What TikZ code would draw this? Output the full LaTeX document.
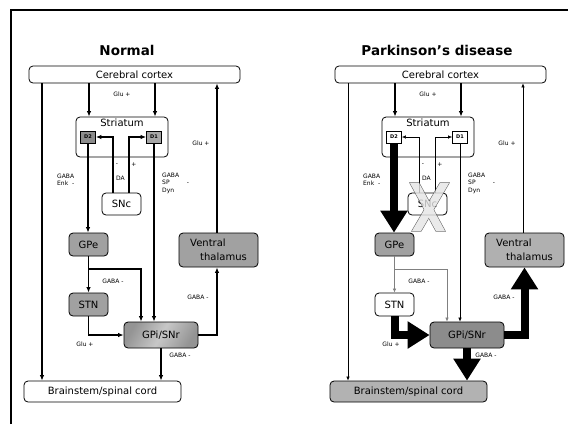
\documentclass[tikz,border=0pt]{standalone}
\usepackage{fontspec}
\setmainfont{DejaVu Sans}
\usetikzlibrary{arrows.meta}
\tikzset{
  box/.style={draw=black, line width=0.8pt, rounded corners=4pt, inner sep=0pt, font=\fontsize{10}{14}\selectfont},
  gbox/.style={box, fill=black!37},
  dbox/.style={draw=black, line width=0.7pt, inner sep=0pt, font=\bfseries\fontsize{5}{5}\selectfont, minimum width=15pt, minimum height=12pt},
  conn/.style={line width=1.5pt, -{Latex[length=5.5pt,width=4.5pt]}},
  thinc/.style={line width=0.6pt, -{Latex[length=4pt,width=3.5pt]}},
  thing/.style={thinc, draw=black!50},
  big/.style={line width=8pt, -{Triangle[length=22pt,width=26pt]}},
  lab/.style={inner sep=0pt, font=\fontsize{6}{7.5}\selectfont},
  ttl/.style={inner sep=0pt, font=\bfseries\fontsize{13.5}{15}\selectfont},
  frame/.style={line width=2.5pt},
  xbar/.style={fill=black!10, draw=black!75, line width=1.1pt}
}
\newcommand\panellabels[1]{%
  \node[lab] (glua#1) at (122,94) {Glu +};
  \node[lab] (glub#1) at (201,143) {Glu +};
  \node[lab] (minus#1) at (117,165) {-};
  \node[lab] (plus#1) at (134,165) {+};
  \node[lab] (da#1) at (120.5,178) {DA};
  \node[lab, align=left, anchor=west] (enk#1) at (57,180) {GABA\\Enk\ \ -};
  \node[lab, align=left, anchor=west] (sp#1) at (162,183) {GABA\\SP\\Dyn};
  \node[lab] (spm#1) at (188,184) {-};
  \node[lab] (gabag#1) at (113,281) {GABA -};
  \node[lab] (gabav#1) at (198,297) {GABA -};
  \node[lab] (gluc#1) at (85,344) {Glu +};
  \node[lab] (gabab#1) at (180,355) {GABA -};
}
\begin{document}
\begin{tikzpicture}[x=1pt,y=-1pt]
\useasboundingbox (0,0) rectangle (568,424);
\fill[white] (0,0) rectangle (568,424);
\coordinate (fa) at (11,424);
\coordinate (fb) at (11,10);
\coordinate (fc) at (568,10);
\draw[frame] (fa) -- (fb) -- (fc);

% titles
\node[ttl] (titleL) at (127,50) {Normal};
\node[ttl] (titleR) at (437,50) {Parkinson’s disease};

% ---------------- left panel ----------------
\panellabels{L}
\node[box, minimum width=211pt, minimum height=17pt] (cortexL) at (134.5,74.5) {Cerebral cortex};
\node[box, minimum width=92pt, minimum height=40pt] (striL) at (122,137) {};
\node[inner sep=0pt, font=\fontsize{10}{12}\selectfont] (stritL) at (122,123) {Striatum};
\node[dbox, fill=black!45] (D2L) at (88,137) {D2};
\node[dbox, fill=black!35] (D1L) at (154,137) {D1};
\node[box, fill=white, minimum width=39pt, minimum height=22pt] (SNcL) at (121.5,204) {SNc};
\node[gbox, minimum width=39pt, minimum height=23pt] (GPeL) at (88.5,244.5) {GPe};
\node[gbox, minimum width=39pt, minimum height=23pt] (STNL) at (88.5,304.5) {STN};
\node[box, minimum width=74pt, minimum height=26pt, top color=black!42, bottom color=black!42, middle color=black!22, shading angle=60] (GPiL) at (161,335) {GPi/SNr};
\node[gbox, minimum width=79pt, minimum height=34pt, align=left] (VTL) at (218.5,250) {Ventral\\\hspace*{10pt}thalamus};
\node[box, fill=white, minimum width=157pt, minimum height=21pt] (BSL) at (102.5,391.5) {Brainstem/spinal cord};

\coordinate (xaL) at (42,0);
\coordinate (xbL) at (89,0);
\coordinate (xcL) at (155,0);
\coordinate (xdL) at (217,0);
\coordinate (xeL) at (113,0);
\coordinate (xfL) at (129,0);
\coordinate (xgL) at (141,0);
\coordinate (jL) at (88.5,269);

\draw[conn] (cortexL.south -| xaL) -- (BSL.north -| xaL);
\draw[conn] (cortexL.south -| xbL) -- (striL.north -| xbL);
\draw[conn] (cortexL.south -| xcL) -- (striL.north -| xcL);
\draw[conn] (VTL.north -| xdL) -- (cortexL.south -| xdL);
\draw[conn] (SNcL.north -| xeL) |- (D2L.east);
\draw[conn] (SNcL.north -| xfL) |- (D1L.west);
\draw[conn] (D2L.south) -- (GPeL.north -| D2L.south);
\draw[conn] (D1L.south) -- (GPiL.north -| D1L.south);
\draw[conn] (GPeL.south) -- (STNL.north);
\draw[conn] (jL) -| (GPiL.north -| xgL);
\draw[conn] (STNL.south) |- (GPiL.west);
\draw[conn] (GPiL.east) -| (VTL.south -| xdL);
\draw[conn] (GPiL.south) -- (BSL.north -| GPiL.south);

% ---------------- right panel ----------------
\begin{scope}[xshift=306pt]
\panellabels{R}
\end{scope}
\node[box, minimum width=211pt, minimum height=17pt] (cortexR) at (440.5,74.5) {Cerebral cortex};
\node[box, minimum width=92pt, minimum height=40pt] (striR) at (428,137) {};
\node[inner sep=0pt, font=\fontsize{10}{12}\selectfont] (stritR) at (428,123) {Striatum};
\node[dbox, fill=white] (D2R) at (394,137) {D2};
\node[dbox, fill=white] (D1R) at (460,137) {D1};
\node[box, fill=white, minimum width=39pt, minimum height=22pt] (SNcR) at (427.5,204) {SNc};
\node[gbox, minimum width=39pt, minimum height=23pt] (GPeR) at (394.5,244.5) {GPe};
\node[box, fill=white, minimum width=39pt, minimum height=23pt] (STNR) at (394.5,304.5) {STN};
\node[box, fill=black!45, minimum width=74pt, minimum height=26pt] (GPiR) at (467,335) {GPi/SNr};
\node[box, fill=black!31, minimum width=79pt, minimum height=34pt, align=left] (VTR) at (524.5,250) {Ventral\\\hspace*{10pt}thalamus};
\node[box, fill=black!30, minimum width=157pt, minimum height=21pt] (BSR) at (408.5,391.5) {Brainstem/spinal cord};

\coordinate (xaR) at (348,0);
\coordinate (xbR) at (395,0);
\coordinate (xcR) at (461,0);
\coordinate (xdR) at (523,0);
\coordinate (xeR) at (419,0);
\coordinate (xfR) at (435,0);
\coordinate (xgR) at (447,0);
\coordinate (jR) at (394.5,269);

\draw[thinc] (cortexR.south -| xaR) -- (BSR.north -| xaR);
\draw[conn] (cortexR.south -| xbR) -- (striR.north -| xbR);
\draw[conn] (cortexR.south -| xcR) -- (striR.north -| xcR);
\draw[thinc] (VTR.north -| xdR) -- (cortexR.south -| xdR);
\draw[thinc] (SNcR.north -| xeR) |- (D2R.east);
\draw[thinc] (SNcR.north -| xfR) |- (D1R.west);
\draw[thinc] (D1R.south) -- (GPiR.north -| D1R.south);
\draw[thing] (GPeR.south) -- (STNR.north);
\draw[thing] (jR) -| (GPiR.north -| xgR);

% crossed-out SNc (semi-transparent X)
\coordinate (xa1) at (410,183);
\coordinate (xa2) at (419,183);
\coordinate (xa3) at (445,231);
\coordinate (xa4) at (436,231);
\coordinate (xb1) at (440,183);
\coordinate (xb2) at (449,183);
\coordinate (xb3) at (421,231);
\coordinate (xb4) at (412,231);
\begin{scope}[transparency group, opacity=0.8]
\filldraw[xbar] (xa1) -- (xa2) -- (xa3) -- (xa4) -- cycle;
\filldraw[xbar] (xb1) -- (xb2) -- (xb3) -- (xb4) -- cycle;
\fill[black!10] (xa1) -- (xa2) -- (xa3) -- (xa4) -- cycle;
\fill[black!10] (xb1) -- (xb2) -- (xb3) -- (xb4) -- cycle;
\end{scope}

% thick pathways
\draw[big] (D2R.south) -- (GPeR.north -| D2R.south);
\draw[big] (STNR.south) |- (GPiR.west);
\draw[big] (GPiR.east) -| (VTR.south);
\draw[big] (GPiR.south) -- (BSR.north -| GPiR.south);
\end{tikzpicture}
\end{document}
